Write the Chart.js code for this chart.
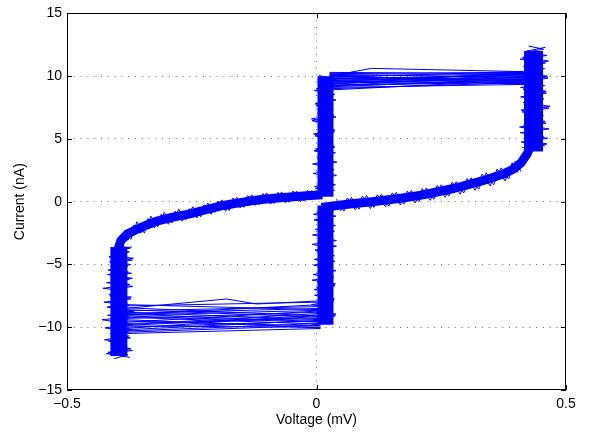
<!DOCTYPE html>
<html><head><meta charset="utf-8">
<script src="https://cdn.jsdelivr.net/npm/chart.js@4/dist/chart.umd.min.js"></script>
<style>html,body{margin:0;padding:0;background:#fff}canvas{display:block}</style>
</head><body>
<canvas id="c" width="599" height="434"></canvas>
<script>
// ---- axis ticks ----
const xTicks = [-0.5, 0, 0.5];
const yTicks = [-15, -10, -5, 0, 5, 10, 15];

// ---- band centre lines (voltage mV, current nA) ----
const lowBranchV = [-0.398, -0.392, -0.380, -0.360, -0.340, -0.320, -0.290, -0.254, -0.220, -0.187, -0.150, -0.119, -0.085, -0.053, -0.013, 0.012];
const lowBranchI = [-3.8, -3.1, -2.6, -2.2, -1.85, -1.55, -1.25, -0.97, -0.62, -0.30, -0.05, 0.14, 0.27, 0.38, 0.50, 0.55];
const upBranchV = [0.010, 0.041, 0.075, 0.107, 0.140, 0.173, 0.210, 0.241, 0.275, 0.308, 0.340, 0.374, 0.395, 0.410, 0.422, 0.430];
const upBranchI = [-0.45, -0.30, -0.15, -0.02, 0.13, 0.30, 0.52, 0.77, 1.05, 1.40, 1.75, 2.20, 2.60, 3.10, 3.80, 4.50];

// columns (switching) : voltage, current start, current end
const leftColV = [-0.396, -0.396];
const leftColI = [-12.3, -3.6];
const midUpV = [0.018, 0.018];
const midUpI = [0.4, 10.0];
const midLowV = [0.018, 0.018];
const midLowI = [-0.3, -9.8];
const rightColV = [0.435, 0.435];
const rightColI = [4.0, 12.0];

// ---- noise excursions read along the columns ----
const leftSpikeV = [-0.405,-0.378,-0.418,-0.372,-0.410,-0.381,-0.425,-0.376,-0.414,-0.368,-0.409,-0.383,-0.430,-0.375,-0.412,-0.366,-0.420,-0.379,-0.407,-0.371,-0.416,-0.380,-0.428,-0.374,-0.411,-0.369,-0.419,-0.377,-0.409,-0.372,-0.415,-0.367,-0.410,-0.375,-0.404,-0.370];
const leftSpikeI = [-12.5,-12.2,-12.0,-11.7,-11.5,-11.2,-11.0,-10.7,-10.5,-10.2,-9.9,-9.7,-9.4,-9.2,-8.9,-8.7,-8.4,-8.1,-7.9,-7.6,-7.4,-7.1,-6.9,-6.6,-6.3,-6.1,-5.8,-5.6,-5.3,-5.0,-4.8,-4.5,-4.3,-4.0,-3.8,-3.6];
const leftSpike2V = [-0.374,-0.421,-0.369,-0.411,-0.382,-0.417,-0.373,-0.408,-0.377,-0.424,-0.370,-0.413,-0.379,-0.419,-0.365,-0.410,-0.376,-0.426,-0.372,-0.414,-0.381,-0.409,-0.368,-0.421,-0.375,-0.412,-0.371,-0.418,-0.378,-0.406,-0.369,-0.416,-0.380,-0.411,-0.373,-0.402];
const leftSpike2I = [-12.4,-12.1,-11.85,-11.6,-11.35,-11.1,-10.85,-10.6,-10.35,-10.05,-9.8,-9.55,-9.3,-9.05,-8.8,-8.55,-8.25,-8.0,-7.75,-7.5,-7.25,-7.0,-6.75,-6.45,-6.2,-5.95,-5.7,-5.45,-5.15,-4.9,-4.65,-4.4,-4.15,-3.9,-3.7,-3.45];
const midUpSpikeV = [0.004,0.036,-0.004,0.031,0.008,0.040,0.002,0.033,-0.008,0.029,0.006,0.038,-0.002,0.034,0.005,0.030,-0.006,0.037,0.003,0.032,-0.010,0.035,0.007,0.030,-0.003,0.039,0.004,0.033,0.000,0.036,0.006,0.031];
const midUpSpikeI = [0.6,0.9,1.2,1.5,1.8,2.1,2.4,2.7,3.0,3.3,3.6,3.9,4.2,4.5,4.8,5.1,5.4,5.7,6.0,6.3,6.6,6.9,7.2,7.5,7.8,8.1,8.4,8.7,9.0,9.3,9.6,9.9];
const midUpSpike2V = [0.033,-0.002,0.038,0.005,0.030,-0.007,0.035,0.003,0.041,0.001,0.032,-0.005,0.037,0.006,0.029,-0.003,0.036,0.004,0.031,-0.009,0.039,0.002,0.034,-0.001,0.030,0.007,0.037,-0.004,0.033,0.003,0.040,0.005];
const midUpSpike2I = [0.75,1.05,1.35,1.65,1.95,2.25,2.55,2.85,3.15,3.45,3.75,4.05,4.35,4.65,4.95,5.25,5.55,5.85,6.15,6.45,6.75,7.05,7.35,7.65,7.95,8.25,8.55,8.85,9.15,9.45,9.75,10.05];
const midLowSpikeV = [0.003,0.035,-0.006,0.032,0.005,0.038,-0.002,0.030,0.007,0.040,-0.009,0.033,0.002,0.036,-0.004,0.031,0.006,0.039,-0.007,0.034,0.001,0.037,-0.005,0.030,0.004,0.035,-0.010,0.032,0.000,0.038,-0.003,0.031];
const midLowSpikeI = [-0.4,-0.7,-1.0,-1.3,-1.6,-1.9,-2.2,-2.5,-2.8,-3.1,-3.4,-3.7,-4.0,-4.3,-4.6,-4.9,-5.2,-5.5,-5.8,-6.1,-6.4,-6.7,-7.0,-7.3,-7.6,-7.9,-8.2,-8.5,-8.8,-9.1,-9.4,-9.7];
const midLowSpike2V = [0.034,0.001,0.039,-0.005,0.031,0.006,0.036,-0.008,0.033,0.002,0.040,-0.003,0.030,0.005,0.037,-0.006,0.032,0.003,0.035,-0.009,0.038,0.000,0.031,-0.004,0.036,0.006,0.033,-0.007,0.039,0.002,0.030,-0.011];
const midLowSpike2I = [-0.55,-0.85,-1.15,-1.45,-1.75,-2.05,-2.35,-2.65,-2.95,-3.25,-3.55,-3.85,-4.15,-4.45,-4.75,-5.05,-5.35,-5.65,-5.95,-6.25,-6.55,-6.85,-7.15,-7.45,-7.75,-8.05,-8.35,-8.65,-8.95,-9.25,-9.55,-9.85];
const rightSpikeV = [0.412,0.462,0.418,0.455,0.408,0.466,0.415,0.458,0.420,0.452,0.410,0.468,0.414,0.456,0.419,0.460,0.409,0.454,0.416,0.463,0.411,0.457,0.417,0.465,0.413,0.452,0.421,0.459];
const rightSpikeI = [4.3,4.6,4.9,5.2,5.5,5.8,6.1,6.4,6.7,7.0,7.3,7.6,7.9,8.2,8.5,8.8,9.1,9.4,9.7,10.0,10.3,10.6,10.9,11.2,11.5,11.8,12.0,12.3];
const rightSpike2V = [0.458,0.410,0.463,0.416,0.451,0.407,0.460,0.419,0.455,0.412,0.466,0.417,0.453,0.409,0.461,0.414,0.457,0.420,0.464,0.411,0.452,0.415,0.459,0.408,0.462,0.418,0.455,0.425];
const rightSpike2I = [4.45,4.75,5.05,5.35,5.65,5.95,6.25,6.55,6.85,7.15,7.45,7.75,8.05,8.35,8.65,8.95,9.25,9.55,9.85,10.15,10.45,10.75,11.05,11.35,11.65,11.9,12.15,12.4];

// ---- noise along the branches ----
const lowJitV = [-0.385,-0.372,-0.360,-0.345,-0.332,-0.318,-0.305,-0.290,-0.276,-0.262,-0.248,-0.232,-0.218,-0.204,-0.190,-0.175,-0.160,-0.146,-0.130,-0.115,-0.100,-0.085,-0.070,-0.055,-0.040,-0.025,-0.010];
const lowJitI = [-2.3,-3.0,-1.6,-2.5,-1.15,-2.0,-0.85,-1.7,-0.6,-1.45,-0.4,-1.2,-0.1,-0.85,0.15,-0.7,0.35,-0.45,0.55,-0.25,0.7,-0.15,0.78,-0.05,0.85,0.05,0.9];
const lowJit2V = [-0.378,-0.366,-0.352,-0.338,-0.325,-0.311,-0.297,-0.283,-0.269,-0.255,-0.240,-0.225,-0.211,-0.197,-0.182,-0.167,-0.153,-0.138,-0.122,-0.107,-0.092,-0.077,-0.062,-0.047,-0.032,-0.017];
const lowJit2I = [-3.1,-1.85,-2.5,-1.35,-2.1,-1.0,-1.8,-0.75,-1.55,-0.55,-1.3,-0.25,-1.0,0.05,-0.75,0.3,-0.5,0.5,-0.3,0.65,-0.2,0.75,-0.1,0.85,0.0,0.95];
const upJitV = [0.040,0.055,0.070,0.085,0.100,0.115,0.130,0.145,0.160,0.175,0.190,0.205,0.220,0.235,0.250,0.265,0.280,0.295,0.310,0.325,0.340,0.355,0.370,0.385,0.398,0.410];
const upJitI = [0.2,-0.75,0.35,-0.6,0.5,-0.45,0.6,-0.35,0.75,-0.2,0.9,0.0,1.1,0.2,1.35,0.45,1.6,0.7,1.9,1.0,2.3,1.35,2.7,1.8,3.2,2.4];
const upJit2V = [0.048,0.062,0.078,0.092,0.108,0.122,0.138,0.152,0.168,0.182,0.198,0.212,0.228,0.242,0.258,0.272,0.288,0.302,0.318,0.332,0.348,0.362,0.378,0.392,0.404];
const upJit2I = [-0.75,0.3,-0.65,0.45,-0.55,0.55,-0.4,0.7,-0.25,0.85,-0.1,1.05,0.1,1.3,0.35,1.55,0.6,1.85,0.9,2.2,1.25,2.6,1.65,3.1,2.3];

// ---- flat transitions between the columns ----
const topTraceV = [0.026, 0.428];
const topStartI = [10.2, 10.0, 9.8, 9.6, 9.4, 9.2, 9.0, 9.7, 10.1, 9.5, 8.9, 9.3, 9.9, 9.1, 10.3, 9.65, 9.85, 10.05, 9.45, 9.25, 9.55, 9.95, 9.75, 9.15, 10.15, 9.35];
const topEndI   = [10.3, 9.6, 10.1, 9.4, 9.9, 10.2, 9.5, 9.8, 9.3, 10.0, 9.7, 9.6, 10.4, 9.35, 10.2, 9.9, 9.45, 10.15, 9.75, 9.55, 10.25, 9.65, 10.05, 9.8, 9.9, 10.35];
const topOutV = [0.026, 0.110, 0.428];
const topOutI = [10.0, 10.62, 10.35];
const botTraceV = [-0.382, 0.008];
const botStartI = [-8.3, -8.6, -8.9, -9.1, -9.3, -9.5, -9.7, -9.9, -10.1, -10.3, -10.5, -9.0, -8.8, -9.6, -8.2, -10.0, -9.2, -9.8, -8.45, -10.2, -9.4, -8.7, -9.85, -10.4, -9.05, -8.95];
const botEndI   = [-8.0, -9.2, -8.5, -9.6, -8.8, -9.9, -9.3, -10.0, -9.0, -9.7, -10.1, -8.2, -9.4, -8.7, -8.6, -9.5, -9.75, -8.9, -9.1, -9.45, -10.05, -8.35, -9.15, -9.85, -8.65, -9.55];
const botOutV = [-0.382, -0.180, -0.120, 0.008];
const botOutI = [-8.5, -7.75, -8.15, -7.9];

const BLUE = '#0000ff';
const pts = (vs, is) => vs.map((v, k) => ({x: v, y: is[k]}));
const line = (vs, is, w, join) => ({
  data: pts(vs, is), showLine: true, borderColor: BLUE, backgroundColor: BLUE,
  borderWidth: w, pointRadius: 0, tension: 0, borderJoinStyle: join || 'miter', borderCapStyle: 'butt'
});

const datasets = [
  line(lowBranchV, lowBranchI, 9, 'round'),
  line(upBranchV, upBranchI, 9, 'round'),
  line(leftColV, leftColI, 17),
  line(midUpV, midUpI, 16),
  line(midLowV, midLowI, 16),
  line(rightColV, rightColI, 19),
  line(leftSpikeV, leftSpikeI, 1),
  line(leftSpike2V, leftSpike2I, 1),
  line(midUpSpikeV, midUpSpikeI, 1),
  line(midUpSpike2V, midUpSpike2I, 1),
  line(midLowSpikeV, midLowSpikeI, 1),
  line(midLowSpike2V, midLowSpike2I, 1),
  line(rightSpikeV, rightSpikeI, 1),
  line(rightSpike2V, rightSpike2I, 1),
  line(lowJitV, lowJitI, 1),
  line(lowJit2V, lowJit2I, 1),
  line(upJitV, upJitI, 1),
  line(upJit2V, upJit2I, 1),
  line(topOutV, topOutI, 1),
  line(botOutV, botOutI, 1)
];
topStartI.forEach((s, k) => datasets.push(line(topTraceV, [s, topEndI[k]], 1)));
botStartI.forEach((s, k) => datasets.push(line(botTraceV, [s, botEndI[k]], 1)));

const fmt = v => {
  const s = String(Math.round(v * 10) / 10);
  return s.replace('-', '\u2212');
};
const FONT = {family: '"Liberation Sans", Arial, Helvetica, sans-serif', size: 14, lineHeight: 1.2};
const gridColor = (lo, hi) => ctx => {
  const v = ctx.tick ? ctx.tick.value : 0;
  return (Math.abs(v - lo) < 1e-9 || Math.abs(v - hi) < 1e-9) ? 'rgba(0,0,0,0)' : 'rgba(0,0,0,0.6)';
};

const boxPlugin = {
  id: 'box',
  afterDatasetsDraw(chart) {
    const {ctx, chartArea: a, scales} = chart;
    ctx.save();
    ctx.strokeStyle = '#000';
    ctx.lineWidth = 1;
    ctx.strokeRect(Math.round(a.left) + 0.5, Math.round(a.top) + 0.5, Math.round(a.right - a.left) - 1, Math.round(a.bottom - a.top) - 1);
    ctx.beginPath();
    xTicks.forEach(v => {
      const p = Math.round(scales.x.getPixelForValue(v)) + 0.5;
      ctx.moveTo(p, a.bottom); ctx.lineTo(p, a.bottom - 5);
      ctx.moveTo(p, a.top); ctx.lineTo(p, a.top + 5);
    });
    yTicks.forEach(v => {
      const p = Math.round(scales.y.getPixelForValue(v)) + 0.5;
      ctx.moveTo(a.left, p); ctx.lineTo(a.left + 5, p);
      ctx.moveTo(a.right, p); ctx.lineTo(a.right - 5, p);
    });
    ctx.stroke();
    ctx.restore();
  }
};

new Chart(document.getElementById('c'), {
  type: 'scatter',
  data: {datasets},
  plugins: [boxPlugin],
  options: {
    responsive: false,
    animation: false,
    devicePixelRatio: 1,
    layout: {padding: {left: 0, right: 33, top: 10, bottom: 0}},
    plugins: {legend: {display: false}, tooltip: {enabled: false}},
    scales: {
      x: {
        type: 'linear', min: -0.5, max: 0.5,
        afterBuildTicks: s => { s.ticks = xTicks.map(v => ({value: v})); },
        afterFit: s => { s.height = 44; },
        grid: {color: gridColor(-0.5, 0.5), lineWidth: 1, drawTicks: false},
        border: {display: false, dash: [1, 5.8]},
        ticks: {color: '#000', font: FONT, padding: 6, maxRotation: 0, callback: v => fmt(v)},
        title: {display: true, text: 'Voltage (mV)', color: '#000', font: FONT, padding: {top: 0, bottom: 5}}
      },
      y: {
        type: 'linear', min: -15, max: 15,
        afterBuildTicks: s => { s.ticks = yTicks.map(v => ({value: v})); },
        afterFit: s => { s.width = 67; },
        grid: {color: gridColor(-15, 15), lineWidth: 1, drawTicks: false},
        border: {display: false, dash: [1, 5.8]},
        ticks: {color: '#000', font: FONT, padding: 5, callback: v => fmt(v)},
        title: {display: true, text: 'Current (nA)', color: '#000', font: FONT, padding: {top: 12, bottom: 0}}
      }
    }
  }
});
</script>
</body></html>
